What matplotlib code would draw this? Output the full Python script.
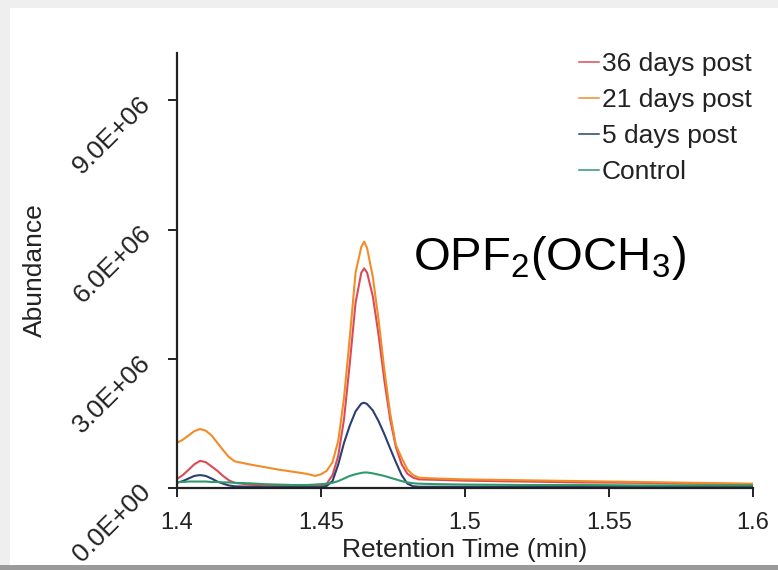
import numpy as np
import matplotlib
matplotlib.use("Agg")
import matplotlib.pyplot as plt
from matplotlib.patches import Rectangle
from matplotlib.ticker import FuncFormatter

plt.rcParams["font.family"] = ["Liberation Sans", "DejaVu Sans"]
plt.rcParams["mathtext.fontset"] = "custom"
plt.rcParams["mathtext.rm"] = "Liberation Sans"
plt.rcParams["mathtext.it"] = "Liberation Sans"

# retention time (min), denser sampling across the two peaks
time_min = [1.400, 1.402, 1.404, 1.406, 1.408, 1.410, 1.412, 1.414, 1.416, 1.418,
            1.420, 1.425, 1.430, 1.435, 1.440, 1.445, 1.448, 1.450, 1.452, 1.454,
            1.456, 1.458, 1.460, 1.462, 1.464, 1.465, 1.466, 1.468, 1.470, 1.472,
            1.474, 1.476, 1.478, 1.480, 1.482, 1.484, 1.490, 1.500, 1.520, 1.540,
            1.560, 1.580, 1.600]

# abundance, in millions of counts
day36 = [0.21, 0.30, 0.42, 0.55, 0.63, 0.60, 0.50, 0.40, 0.28, 0.18,
         0.12, 0.08, 0.06, 0.05, 0.05, 0.05, 0.05, 0.06, 0.10, 0.30,
         0.75, 1.60, 2.90, 4.30, 5.00, 5.10, 5.00, 4.45, 3.55, 2.50,
         1.60, 0.95, 0.55, 0.33, 0.24, 0.20, 0.19, 0.17, 0.15, 0.13,
         0.12, 0.10, 0.09]
day21 = [1.05, 1.12, 1.22, 1.32, 1.37, 1.33, 1.22, 1.05, 0.88, 0.72,
         0.62, 0.55, 0.49, 0.43, 0.38, 0.33, 0.28, 0.32, 0.40, 0.60,
         1.10, 2.10, 3.50, 5.00, 5.60, 5.72, 5.57, 4.90, 3.90, 2.74,
         1.74, 1.00, 0.70, 0.43, 0.30, 0.24, 0.22, 0.20, 0.18, 0.16,
         0.14, 0.12, 0.10]
day5 = [0.12, 0.16, 0.22, 0.28, 0.30, 0.28, 0.22, 0.15, 0.10, 0.06,
        0.04, 0.03, 0.02, 0.02, 0.02, 0.02, 0.02, 0.02, 0.05, 0.16,
        0.55, 1.05, 1.45, 1.78, 1.96, 1.98, 1.95, 1.80, 1.55, 1.25,
        0.92, 0.60, 0.30, 0.10, 0.04, 0.03, 0.03, 0.03, 0.03, 0.03,
        0.03, 0.03, 0.03]
control = [0.14, 0.14, 0.15, 0.15, 0.15, 0.15, 0.14, 0.14, 0.13, 0.13,
           0.12, 0.11, 0.09, 0.08, 0.07, 0.07, 0.08, 0.09, 0.10, 0.12,
           0.16, 0.22, 0.28, 0.32, 0.35, 0.36, 0.36, 0.34, 0.31, 0.28,
           0.24, 0.20, 0.16, 0.13, 0.11, 0.10, 0.09, 0.08, 0.07, 0.07,
           0.06, 0.06, 0.06]

labels = ["36 days post", "21 days post", "5 days post", "Control"]
colors = ["#dc4b55", "#f28c28", "#2b3f72", "#2e9a6c"]
x_ticks = [1.4, 1.45, 1.5, 1.55, 1.6]
x_ticklabels = ["1.4", "1.45", "1.5", "1.55", "1.6"]
y_ticks = [0, 3e6, 6e6, 9e6]

fig = plt.figure(figsize=(7.78, 5.70), dpi=100, facecolor="#efefef")
# white panel with a darker strip along the bottom edge
fig.patches.append(Rectangle((10 / 778, 5 / 570), 768 / 778, 557 / 570,
                             transform=fig.transFigure, facecolor="white",
                             edgecolor="none", zorder=-2))
fig.patches.append(Rectangle((0, 0), 1, 5 / 570, transform=fig.transFigure,
                             facecolor="#9a9a9a", edgecolor="none", zorder=-2))

ax = fig.add_axes([177 / 778, 82 / 570, 576 / 778, 435 / 570])
ax.set_facecolor("none")
ax.set_zorder(1)

t = np.array(time_min)
for series, lab, c in zip([day36, day21, day5, control], labels, colors):
    ax.plot(t, np.array(series) * 1e6, color=c, lw=1.5, label=lab)

ax.set_xlim(1.4, 1.6)
ax.set_ylim(0, 1.01e7)
ax.set_xticks(x_ticks)
ax.set_xticklabels(x_ticklabels)
ax.set_yticks(y_ticks)
ax.yaxis.set_major_formatter(FuncFormatter(lambda v, _: f"{v:.1E}"))

for side in ("top", "right"):
    ax.spines[side].set_visible(False)
for side in ("left", "bottom"):
    ax.spines[side].set_linewidth(1.6)
    ax.spines[side].set_color("#222222")

ax.tick_params(axis="both", direction="out", length=6.5, width=1.4,
               color="#222222", labelcolor="#222222")
ax.tick_params(axis="x", pad=11, labelsize=17)
ax.tick_params(axis="y", pad=15, labelsize=19)
for lab in ax.get_yticklabels():
    lab.set_rotation(45)
    lab.set_rotation_mode("anchor")
    lab.set_ha("right")
    lab.set_va("center")

ax.set_xlabel("Retention Time (min)", fontsize=19, color="#222222")
ax.xaxis.set_label_coords(0.5, -0.115)
ax.set_ylabel("Abundance", fontsize=19, color="#222222")
ax.yaxis.set_label_coords(-0.226, 0.5)

leg = ax.legend(loc="upper left", bbox_to_anchor=(579 / 778, 1 - 52 / 570),
                bbox_transform=fig.transFigure, frameon=False, fontsize=19,
                handlelength=0.75, handletextpad=0.12, labelspacing=0.46,
                borderaxespad=0, borderpad=0)
for h in leg.get_lines():
    h.set_linewidth(1.1)
for txt in leg.get_texts():
    txt.set_color("#222222")

fig.text(413 / 778, 1 - 270 / 570, r"OPF$_2$(OCH$_3$)", fontsize=34,
         va="baseline", ha="left", color="black")

fig.savefig("out.png", dpi=100, facecolor=fig.get_facecolor())
